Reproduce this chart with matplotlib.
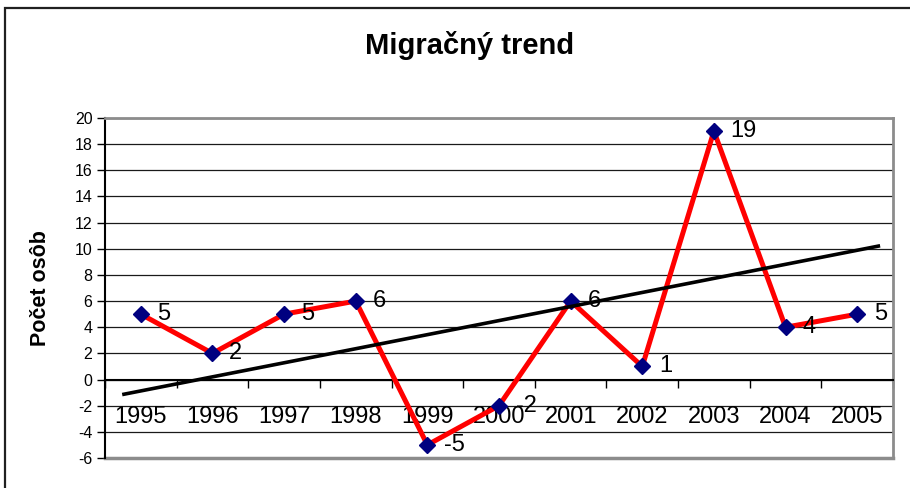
import matplotlib
matplotlib.use("Agg")
import matplotlib.pyplot as plt
from matplotlib.patches import Rectangle
from matplotlib.ticker import FixedLocator, NullFormatter

plt.rcParams['font.family'] = ['Liberation Sans', 'DejaVu Sans']

years = ['1995', '1996', '1997', '1998', '1999', '2000', '2001', '2002', '2003', '2004', '2005']
values = [5, 2, 5, 6, -5, -2, 6, 1, 19, 4, 5]
# trend line end points (x in category index, y in persons)
trend_x = [-0.26, 10.32]
trend_y = [-1.15, 10.23]
y_ticks = list(range(-6, 21, 2))

W, H = 910, 488
fig = plt.figure(figsize=(W / 100, H / 100), dpi=100)

# chart area border
fig.patches.append(Rectangle((5 / W, -0.1), 1.2, 1 - 8 / H + 0.1, transform=fig.transFigure,
                             fill=False, edgecolor='#202020', linewidth=1.6, zorder=0))

ax = fig.add_axes([105 / W, 1 - 458 / H, (893 - 105) / W, (458 - 118) / H])
ax.set_xlim(0, len(years))
ax.set_ylim(-6, 20)

x = [i + 0.5 for i in range(len(years))]

ax.set_yticks(y_ticks)
ax.set_yticklabels([str(t) for t in y_ticks], fontsize=11.5)
ax.tick_params(axis='y', direction='out', length=6, width=1, pad=3, color='black')
for t in y_ticks:
    ax.axhline(t, color='#1a1a1a', linewidth=0.9, zorder=1)

# spines
for s in ['top', 'right']:
    ax.spines[s].set_color('#8c8c8c')
    ax.spines[s].set_linewidth(2)
ax.spines['left'].set_color('black')
ax.spines['left'].set_linewidth(1.5)
ax.spines['bottom'].set_position(('data', 0))
ax.spines['bottom'].set_color('black')
ax.spines['bottom'].set_linewidth(1.5)
ax.axhline(-6, color='#8c8c8c', linewidth=2.5, zorder=2, clip_on=False)

ax.xaxis.set_major_locator(FixedLocator(list(range(len(years) + 1))))
ax.xaxis.set_major_formatter(NullFormatter())
ax.xaxis.set_minor_locator(FixedLocator(x))
ax.set_xticklabels(years, minor=True, fontsize=17)
ax.tick_params(axis='x', which='major', direction='out', length=6, width=1, color='black')
ax.tick_params(axis='x', which='minor', length=0, pad=19)

ax.plot(x, values, color='#ff0000', linewidth=3.6, zorder=3, solid_joinstyle='miter')
ax.plot(x, values, linestyle='none', marker='D', markersize=8.5, color='#000080', zorder=4)
ax.plot([v + 0.5 for v in trend_x], trend_y, color='black', linewidth=2.6, zorder=5,
        solid_capstyle='butt')

for xi, v in zip(x, values):
    ax.annotate(str(v), (xi, v), xytext=(12, 0), textcoords='offset points',
                ha='left', va='center', fontsize=17, zorder=6)

ax.set_ylabel('Počet osôb', fontsize=15.5, fontweight='bold')
ax.yaxis.set_label_coords(-0.069, 0.5)

fig.text(470 / W, 1 - 45 / H, 'Migračný trend', ha='center', va='center',
         fontsize=21, fontweight='bold')

fig.savefig('out.png', dpi=100)
